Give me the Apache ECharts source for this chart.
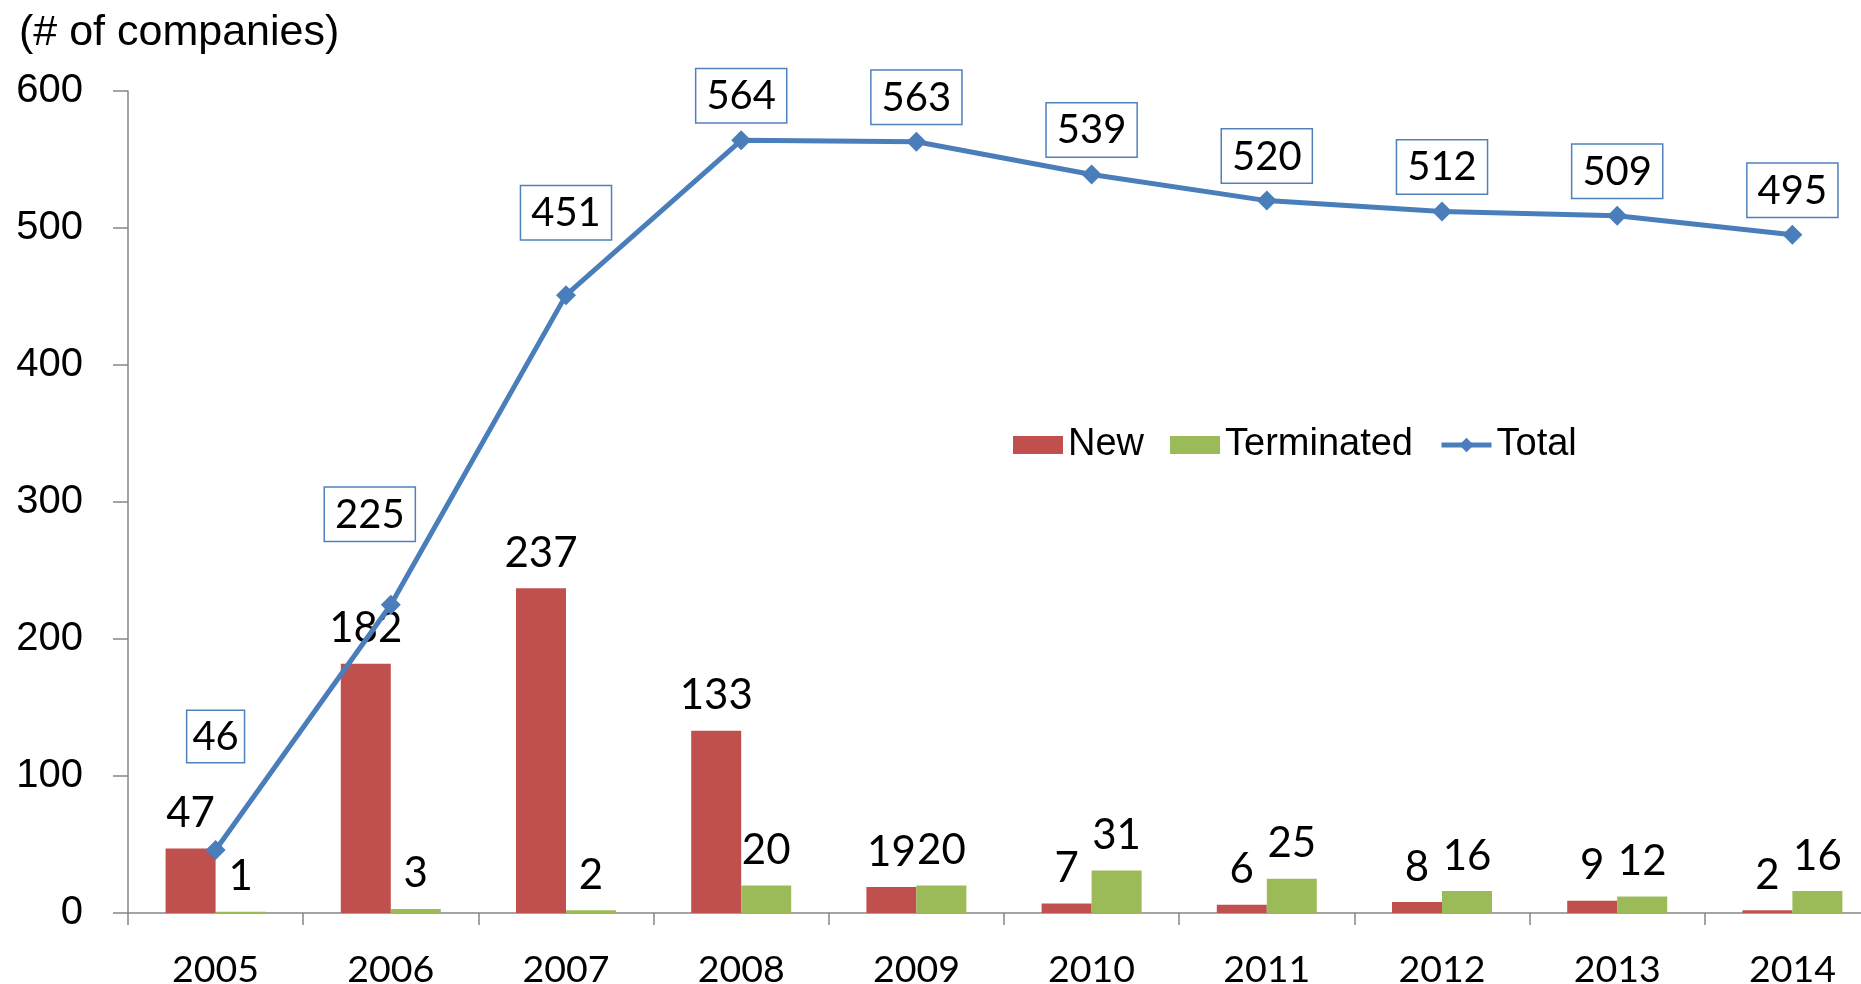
<!DOCTYPE html>
<html lang="en">
<head>
    <meta charset="UTF-8">
    <title>Companies</title>
    <script src="https://cdn.jsdelivr.net/npm/echarts@6/dist/echarts.min.js"></script>
    <style>
        html, body { margin: 0; padding: 0; background: #fff; }
        #main { width: 1861px; height: 984px; }
    </style>
</head>
<body>
    <div id="main"></div>
    <script type="text/javascript">
        const years = ['2005', '2006', '2007', '2008', '2009', '2010', '2011', '2012', '2013', '2014'];
        const newCompanies = [47, 182, 237, 133, 19, 7, 6, 8, 9, 2];
        const terminated = [1, 3, 2, 20, 20, 31, 25, 16, 12, 16];
        const total = [46, 225, 451, 564, 563, 539, 520, 512, 509, 495];
        const yTicks = [0, 100, 200, 300, 400, 500, 600];

        // label shifts for the first boxes, as in the original (kept apart from the data)
        const totalLabelShift = [[0, -70], [-21, -46], [0, -38], [0, 0], [0, 0], [0, 0], [0, 0], [0, 0], [0, 0], [0, 0]];

        const grafico = echarts.init(document.getElementById('main'));
        const labelFont = 'Lato';
        const axisGray = '#868686';

        const barLabel = {
            show: true,
            position: 'top',
            distance: 14,
            color: '#000',
            fontFamily: labelFont,
            fontSize: 42
        };

        const option = {
            animation: false,
            title: {
                text: '(# of companies)',
                left: 19,
                top: 12,
                padding: 0,
                textStyle: { fontFamily: 'Liberation Sans', fontWeight: 'normal', fontSize: 43, color: '#000' }
            },
            legend: {
                left: 1008,
                top: 421,
                itemWidth: 50,
                itemHeight: 18,
                itemGap: 26,
                textStyle: { fontFamily: 'Liberation Sans', fontSize: 38, color: '#000' },
                data: [
                    { name: 'New', icon: 'rect' },
                    { name: 'Terminated', icon: 'rect' },
                    { name: 'Total', lineStyle: { width: 5, color: '#4a7ebb' } }
                ]
            },
            grid: { left: 128, top: 91, width: 1752, height: 822, outerBoundsMode: 'none', containLabel: false },
            xAxis: {
                type: 'category',
                data: years,
                axisLine: { lineStyle: { color: axisGray, width: 1.5 } },
                axisTick: { show: true, length: 12, lineStyle: { color: axisGray, width: 1.5 } },
                axisLabel: { color: '#000', fontFamily: labelFont, fontSize: 37.5, margin: 38 }
            },
            yAxis: {
                type: 'value',
                min: yTicks[0],
                max: yTicks[yTicks.length - 1],
                interval: yTicks[1] - yTicks[0],
                splitLine: { show: false },
                axisLine: { show: true, lineStyle: { color: axisGray, width: 1.5 } },
                axisTick: { show: true, length: 15, lineStyle: { color: axisGray, width: 1.5 } },
                axisLabel: { color: '#000', fontFamily: 'Liberation Sans', fontSize: 40, margin: 45 }
            },
            series: [
                {
                    name: 'New',
                    type: 'bar',
                    data: newCompanies,
                    barWidth: 50,
                    barGap: '0%',
                    itemStyle: { color: '#c0504d' },
                    label: barLabel
                },
                {
                    name: 'Terminated',
                    type: 'bar',
                    data: terminated,
                    barWidth: 50,
                    barGap: '0%',
                    itemStyle: { color: '#9bbb59' },
                    label: barLabel
                },
                {
                    name: 'Total',
                    type: 'line',
                    data: total.map((v, i) => ({
                        value: v,
                        label: i === 0
                            ? { offset: totalLabelShift[i], padding: [5, 5, 4, 5] }
                            : { offset: totalLabelShift[i] }
                    })),
                    symbol: 'diamond',
                    symbolSize: 20,
                    z: 5,
                    lineStyle: { color: '#4a7ebb', width: 5 },
                    itemStyle: { color: '#4a7ebb' },
                    label: {
                        show: true,
                        position: 'top',
                        distance: 8,
                        color: '#000',
                        fontFamily: labelFont,
                        fontSize: 40,
                        lineHeight: 42,
                        padding: [6, 10, 5, 10],
                        backgroundColor: '#fff',
                        borderColor: '#4f81bd',
                        borderWidth: 1.5
                    }
                }
            ]
        };
        grafico.setOption(option);
    </script>
</body>
</html>
